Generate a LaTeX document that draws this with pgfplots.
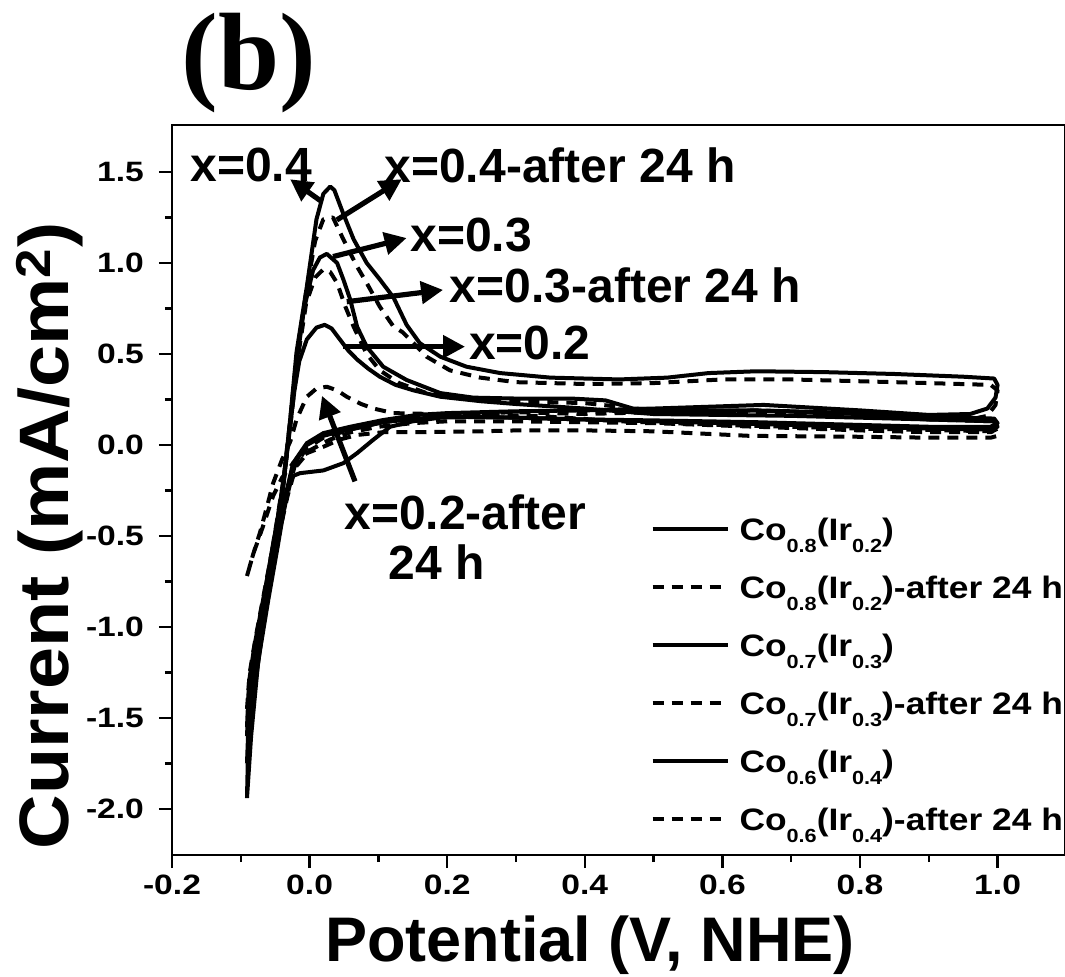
\documentclass[border=0pt]{standalone}
\usepackage{fontspec}
\setmainfont{Liberation Sans}
\newfontfamily\titlefont{Liberation Serif}
\newfontfamily\tickfont[FakeStretch=1.2]{Liberation Sans}
\newfontfamily\legfont[FakeStretch=1.14]{Liberation Sans}
\newfontfamily\ylabfont[FakeStretch=1.08]{Liberation Sans}
\usepackage{pgfplots}
\pgfplotsset{compat=1.18}
\usetikzlibrary{arrows.meta}

% lowered subscripts as used in the sample names
\newcommand\sub[1]{\raisebox{-6pt}{\fontsize{9.5}{9.5}\selectfont #1}}
\newcommand\Co[2]{Co\sub{#1}(Ir\sub{#2})}

\pgfplotsset{
  cvsolid/.style={black, line width=2pt, solid, line join=round},
  cvdash/.style={black, line width=2pt, dash pattern=on 5.5pt off 4pt, line join=round},
}

\begin{document}
\begin{tikzpicture}
\path[use as bounding box] (-86pt,-60.5pt) rectangle (446.5pt,427.5pt);
\begin{axis}[
  at={(0pt,0pt)}, anchor=south west,
  scale only axis, width=446.5pt, height=365pt,
  xmin=-0.2, xmax=1.098, ymin=-2.253, ymax=1.758,
  axis line style={line width=1.2pt},
  xtick={-0.2,0,0.2,0.4,0.6,0.8,1.0},
  minor xtick={-0.1,0.1,0.3,0.5,0.7,0.9},
  ytick={-2,-1.5,-1,-0.5,0,0.5,1,1.5},
  minor ytick={-1.75,-1.25,-0.75,-0.25,0.25,0.75,1.25},
  tick align=outside, xtick pos=bottom, ytick pos=left,
  major tick length=6.5pt, minor tick length=3.5pt,
  tick style={line width=1.2pt, black},
  /pgf/number format/fixed, /pgf/number format/fixed zerofill,
  /pgf/number format/precision=1, /pgf/number format/assume math mode=true,
  ticklabel style={font=\fontsize{14}{14}\selectfont\tickfont\bfseries},
  yticklabel style={xshift=-4pt},
  xlabel={Potential (V, NHE)},
  xlabel style={at={(axis description cs:0.468,-0.123)}, anchor=center,
    font=\fontsize{31.5}{31.5}\selectfont\bfseries},
  ylabel={Current (mA/cm\textsuperscript{2})},
  ylabel style={at={(axis description cs:-0.137,0.437)}, anchor=center,
    font=\fontsize{35}{35}\selectfont\ylabfont\bfseries},
  title={(b)},
  title style={at={(axis description cs:0.086,1.068)}, anchor=center, inner sep=0pt,
    font=\fontsize{55}{55}\selectfont\titlefont\bfseries},
  legend style={at={(axis cs:0.495,-0.401)}, anchor=north west,
    draw=none, fill=none, inner sep=0pt, row sep=11.5pt,
    font=\fontsize{15.5}{15.5}\selectfont\legfont\bfseries,
    nodes={inner sep=0pt, text height=11pt, text depth=6.5pt}},
  legend cell align=left,
  legend image code/.code={\draw[#1] (0pt,3.5pt) -- (37.5pt,3.5pt); \path (42.5pt,0pt);},
]

% Co0.8(Ir0.2)
\addplot[cvsolid] coordinates {
(-0.091,-1.55) (-0.088,-1.3) (-0.08,-1.1) (-0.07,-0.9) (-0.06,-0.70) (-0.048,-0.44)
(-0.038,-0.20) (-0.03,0.05) (-0.022,0.3) (-0.015,0.46) (-0.004,0.58) (0.01,0.645)
(0.022,0.66) (0.032,0.64) (0.044,0.58) (0.056,0.52) (0.069,0.47) (0.085,0.42)
(0.102,0.375) (0.125,0.33) (0.151,0.30) (0.19,0.265) (0.25,0.24) (0.3,0.225)
(0.4,0.20) (0.5,0.17) (0.6,0.165) (0.7,0.16) (0.8,0.15) (0.9,0.14) (0.995,0.13)
(1.0,0.10) (0.99,0.085) (0.9,0.09) (0.8,0.10) (0.7,0.11) (0.6,0.12) (0.5,0.13)
(0.4,0.14) (0.3,0.15) (0.238,0.155) (0.19,0.15) (0.15,0.13) (0.117,0.10)
(0.093,0.03) (0.069,-0.045) (0.049,-0.10) (0.02,-0.14) (-0.014,-0.155)
(-0.024,-0.17) (-0.032,-0.24) (-0.038,-0.30) (-0.048,-0.48) (-0.06,-0.75)
(-0.072,-1.0) (-0.084,-1.3) (-0.091,-1.55)
};
\addlegendentry{\Co{0.8}{0.2}}

% Co0.8(Ir0.2) after 24 h
\addplot[cvdash] coordinates {
(-0.091,-0.72) (-0.082,-0.60) (-0.072,-0.48) (-0.062,-0.34) (-0.053,-0.21)
(-0.04,-0.08) (-0.028,0.02) (-0.019,0.14) (-0.004,0.265) (0.01,0.31) (0.025,0.32)
(0.04,0.30) (0.054,0.265) (0.075,0.225) (0.093,0.20) (0.122,0.175) (0.18,0.17)
(0.25,0.17) (0.35,0.155) (0.45,0.13) (0.6,0.11) (0.8,0.09) (0.995,0.075)
(1.0,0.05) (0.99,0.04) (0.9,0.04) (0.8,0.045) (0.64,0.05) (0.5,0.075) (0.4,0.08)
(0.3,0.08) (0.25,0.075) (0.156,0.07) (0.107,0.07) (0.069,0.055) (0.044,0.03)
(0.02,-0.01) (-0.004,-0.045) (-0.024,-0.10) (-0.04,-0.18) (-0.053,-0.28)
(-0.068,-0.45) (-0.082,-0.6) (-0.091,-0.72)
};
\addlegendentry{\Co{0.8}{0.2}-after 24 h}

% Co0.7(Ir0.3)
\addplot[cvsolid] coordinates {
(-0.091,-1.75) (-0.088,-1.45) (-0.08,-1.2) (-0.07,-0.98) (-0.06,-0.74) (-0.048,-0.46)
(-0.038,-0.22) (-0.028,0.12) (-0.019,0.45) (-0.008,0.75) (0.005,0.96) (0.015,1.03)
(0.025,1.05) (0.04,1.00) (0.049,0.91) (0.059,0.80) (0.069,0.65) (0.083,0.54)
(0.107,0.43) (0.141,0.357) (0.19,0.285) (0.238,0.26) (0.3,0.255) (0.38,0.255)
(0.43,0.245) (0.47,0.20) (0.55,0.19) (0.65,0.19) (0.75,0.18) (0.85,0.165)
(0.95,0.15) (0.995,0.145)
(1.0,0.12) (0.99,0.10) (0.9,0.10) (0.8,0.11) (0.65,0.125) (0.5,0.135) (0.4,0.14)
(0.3,0.15) (0.204,0.155) (0.156,0.145) (0.107,0.125) (0.07,0.095) (0.04,0.07)
(0.02,0.05) (-0.004,0.0) (-0.024,-0.11) (-0.034,-0.28) (-0.046,-0.55)
(-0.06,-0.85) (-0.073,-1.15) (-0.084,-1.45) (-0.091,-1.75)
};
\addlegendentry{\Co{0.7}{0.3}}

% Co0.7(Ir0.3) after 24 h
\addplot[cvdash] coordinates {
(-0.091,-1.45) (-0.087,-1.25) (-0.078,-1.05) (-0.068,-0.85) (-0.058,-0.65)
(-0.047,-0.42) (-0.037,-0.18) (-0.027,0.14) (-0.017,0.48) (-0.005,0.78)
(0.008,0.92) (0.02,0.965) (0.03,0.95) (0.04,0.89) (0.052,0.76) (0.064,0.65)
(0.083,0.50) (0.102,0.41) (0.13,0.34) (0.17,0.285) (0.21,0.26) (0.3,0.24)
(0.4,0.23) (0.45,0.21) (0.5,0.18) (0.6,0.175) (0.7,0.17) (0.8,0.16) (0.9,0.14)
(0.995,0.13)
(1.0,0.09) (0.99,0.07) (0.9,0.07) (0.8,0.08) (0.65,0.10) (0.5,0.12) (0.4,0.125)
(0.3,0.13) (0.2,0.13) (0.15,0.12) (0.1,0.10) (0.06,0.07) (0.03,0.03) (0.0,-0.03)
(-0.02,-0.12) (-0.032,-0.28) (-0.045,-0.5) (-0.058,-0.75) (-0.07,-1.0)
(-0.082,-1.25) (-0.091,-1.45)
};
\addlegendentry{\Co{0.7}{0.3}-after 24 h}

% Co0.6(Ir0.4)
\addplot[cvsolid] coordinates {
(-0.091,-1.94) (-0.089,-1.6) (-0.086,-1.31) (-0.079,-1.15) (-0.072,-1.03)
(-0.062,-0.76) (-0.048,-0.45) (-0.038,-0.21) (-0.028,0.15) (-0.019,0.51)
(-0.004,0.87) (0.010,1.24) (0.020,1.38) (0.030,1.42) (0.036,1.40) (0.049,1.27)
(0.064,1.13) (0.083,1.00) (0.102,0.91) (0.122,0.81) (0.141,0.66) (0.160,0.56)
(0.190,0.485) (0.228,0.43) (0.277,0.395) (0.35,0.37) (0.45,0.36) (0.52,0.37)
(0.58,0.395) (0.65,0.405) (0.75,0.40) (0.85,0.39) (0.95,0.375) (0.995,0.365)
(1.0,0.33) (0.997,0.26) (0.985,0.20) (0.96,0.17) (0.90,0.165) (0.80,0.19)
(0.66,0.22) (0.5,0.20) (0.4,0.19) (0.3,0.185) (0.2,0.175) (0.156,0.165)
(0.107,0.137) (0.059,0.10) (0.02,0.065) (-0.004,0.01) (-0.024,-0.10)
(-0.035,-0.28) (-0.048,-0.52) (-0.062,-0.85) (-0.075,-1.2) (-0.085,-1.6)
(-0.091,-1.94)
};
\addlegendentry{\Co{0.6}{0.4}}

% Co0.6(Ir0.4) after 24 h
\addplot[cvdash] coordinates {
(-0.091,-1.60) (-0.088,-1.35) (-0.08,-1.12) (-0.07,-0.92) (-0.06,-0.70)
(-0.048,-0.43) (-0.038,-0.19) (-0.028,0.14) (-0.019,0.48) (-0.005,0.84)
(0.008,1.12) (0.020,1.24) (0.034,1.25) (0.049,1.13) (0.069,0.98) (0.083,0.89)
(0.102,0.76) (0.122,0.65) (0.135,0.62) (0.151,0.56) (0.17,0.485) (0.204,0.41)
(0.248,0.37) (0.3,0.345) (0.4,0.335) (0.5,0.34) (0.6,0.36) (0.7,0.36) (0.8,0.35)
(0.9,0.34) (0.99,0.33)
(1.0,0.30) (0.997,0.22) (0.985,0.16) (0.96,0.14) (0.9,0.14) (0.8,0.17)
(0.65,0.19) (0.5,0.18) (0.4,0.17) (0.3,0.18) (0.2,0.17) (0.15,0.15) (0.1,0.12)
(0.06,0.085) (0.02,0.04) (-0.005,-0.02) (-0.022,-0.12) (-0.034,-0.30)
(-0.046,-0.52) (-0.06,-0.82) (-0.073,-1.1) (-0.084,-1.38) (-0.091,-1.6)
};
\addlegendentry{\Co{0.6}{0.4}-after 24 h}

% peak annotations
\begin{scope}[line width=2.6pt, -{Triangle[length=11pt,width=11pt]}]
\draw (axis cs:0.0177,1.337) -- (axis cs:-0.0283,1.46);
\draw (axis cs:0.0395,1.236) -- (axis cs:0.134,1.46);
\draw (axis cs:0.034,1.035) -- (axis cs:0.141,1.137);
\draw (axis cs:0.054,0.787) -- (axis cs:0.194,0.852);
\draw (axis cs:0.0487,0.540) -- (axis cs:0.226,0.540);
\draw (axis cs:0.066,-0.20) -- (axis cs:0.018,0.27);
\end{scope}
\begin{scope}[every node/.style={font=\fontsize{24}{24}\selectfont\bfseries, inner sep=0pt}]
\node at (axis cs:-0.085,1.538) {x=0.4};
\node at (axis cs:0.364,1.538) {x=0.4-after 24 h};
\node at (axis cs:0.235,1.154) {x=0.3};
\node at (axis cs:0.459,0.879) {x=0.3-after 24 h};
\node at (axis cs:0.320,0.560) {x=0.2};
\node at (axis cs:0.226,-0.368) {x=0.2-after};
\node at (axis cs:0.185,-0.643) {24 h};
\end{scope}
\end{axis}
\end{tikzpicture}
\end{document}
